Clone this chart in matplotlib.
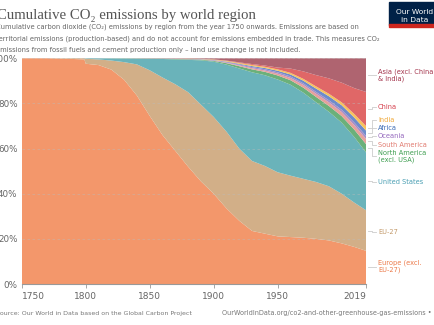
import numpy as np
import matplotlib
matplotlib.use("Agg")
from matplotlib import pyplot as plt
from matplotlib.patches import Rectangle

# shares of cumulative CO2 emissions (%) by region
years = [1750, 1770, 1790, 1799, 1800, 1810, 1820, 1830, 1840, 1850, 1860, 1870, 1880,
         1890, 1900, 1910, 1920, 1930, 1940, 1950, 1960, 1970, 1980, 1990, 2000, 2010, 2019]

europe_other = [100, 100, 99.7, 99.5, 97.6, 97.0, 95.0, 90.5, 83.5, 74.5, 66.0, 59.0, 52.0,
                45.5, 40.0, 33.5, 28.0, 23.5, 22.3, 21.1, 20.8, 20.5, 20.0, 19.3, 18.0, 16.4, 14.7]
eu27 = [0, 0, 0.3, 0.5, 2.2, 2.5, 4.0, 7.8, 13.8, 20.2, 25.5, 29.5, 33.0,
        34.0, 34.0, 34.0, 32.0, 31.0, 30.0, 28.4, 27.2, 26.1, 25.2, 24.0, 22.0, 19.6, 18.0]
usa = [0, 0, 0, 0, 0.2, 0.5, 0.95, 1.6, 2.55, 5.1, 8.2, 11.0, 14.3,
       19.6, 24.5, 29.7, 35.5, 39.3, 40.2, 41.1, 40.3, 38.2, 35.3, 33.0, 31.5, 29.0, 25.6]
north_america_other = [0, 0, 0, 0, 0, 0, 0.05, 0.1, 0.1, 0.1, 0.15, 0.2, 0.25,
                       0.3, 0.35, 0.65, 1.0, 1.3, 1.5, 1.8, 2.0, 2.2, 2.4, 2.6, 2.9, 3.3, 3.7]
south_america = [0, 0, 0, 0, 0, 0, 0, 0, 0, 0, 0, 0, 0.05,
                 0.05, 0.1, 0.2, 0.35, 0.5, 0.6, 0.8, 1.0, 1.2, 1.4, 1.6, 1.8, 2.0, 2.3]
oceania = [0, 0, 0, 0, 0, 0, 0, 0, 0, 0, 0.05, 0.1, 0.1,
           0.15, 0.2, 0.3, 0.4, 0.5, 0.55, 0.6, 0.65, 0.7, 0.8, 0.9, 1.0, 1.15, 1.3]
africa = [0, 0, 0, 0, 0, 0, 0, 0, 0, 0, 0, 0, 0,
          0.05, 0.1, 0.2, 0.3, 0.45, 0.55, 0.7, 0.9, 1.2, 1.5, 1.8, 2.0, 2.2, 2.4]
india = [0, 0, 0, 0, 0, 0, 0, 0, 0, 0, 0, 0.05, 0.1,
         0.1, 0.2, 0.3, 0.4, 0.5, 0.55, 0.6, 0.7, 0.8, 0.95, 1.1, 1.3, 1.6, 2.0]
china = [0, 0, 0, 0, 0, 0, 0, 0, 0, 0, 0, 0, 0,
         0, 0.05, 0.15, 0.25, 0.4, 0.55, 0.8, 1.9, 3.3, 5.0, 6.8, 8.7, 11.5, 15.1]
asia_other = [0, 0, 0, 0, 0, 0, 0, 0, 0.05, 0.1, 0.1, 0.15, 0.2,
              0.25, 0.5, 1.0, 1.8, 2.55, 3.2, 4.1, 4.55, 5.8, 7.45, 8.9, 10.8, 13.25, 14.9]

series = [europe_other, eu27, usa, north_america_other, south_america,
          oceania, africa, india, china, asia_other]
names = ["Europe (excl.\nEU-27)", "EU-27", "United States", "North America\n(excl. USA)",
         "South America", "Oceania", "Africa", "India", "China", "Asia (excl. China\n& India)"]
fill_colors = ["#F3976B", "#D2AF88", "#6AB3BA", "#6BB07A", "#E7A19B",
               "#A98CC6", "#6E8BCB", "#F7C35C", "#E06767", "#AF6470"]
text_colors = ["#EC7A4A", "#C39A6B", "#4A9FB3", "#3E9E50", "#E17B70",
               "#9467BD", "#3C6CB5", "#F0A93A", "#D53D4B", "#A3334B"]
# label heights (%) on the right-hand side
label_y = [7.7, 23.1, 45.3, 56.6, 61.8, 65.5, 68.9, 72.6, 78.3, 92.5]

W, H = 435, 325
fig = plt.figure(figsize=(W / 100, H / 100), dpi=100)
left, right, top, bottom = 21.7, 366, 58.3, 284
ax = fig.add_axes([left / W, 1 - bottom / H, (right - left) / W, (bottom - top) / H])

ax.stackplot(years, *series, colors=fill_colors, linewidth=0)
ax.set_xlim(1750, 2019)
ax.set_ylim(0, 100)

for v in [20, 40, 60, 80, 100]:
    ax.axhline(v, color="#bbbbbb", lw=0.6, ls=(0, (3, 3)), alpha=0.5, zorder=3)

for s in ["top", "right", "left"]:
    ax.spines[s].set_visible(False)
ax.spines["bottom"].set_color("#999999")
ax.spines["bottom"].set_linewidth(0.8)

ax.set_yticks([0, 20, 40, 60, 80, 100])
ax.set_yticklabels(["0%", "20%", "40%", "60%", "80%", "100%"])
ax.tick_params(axis="y", length=0, pad=3, labelsize=6.3, labelcolor="#666666")
xt = [1750, 1800, 1850, 1900, 1950, 2019]
ax.set_xticks(xt)
ax.set_xticklabels([str(t) for t in xt])
ax.tick_params(axis="x", length=3, width=0.6, color="#999999", pad=3,
               labelsize=6.5, labelcolor="#666666")
xl = ax.get_xticklabels()
xl[0].set_horizontalalignment("left")
xl[-1].set_horizontalalignment("right")

# right-hand labels with leader lines
ends = np.cumsum([s[-1] for s in series])
mids = ends - np.array([s[-1] for s in series]) / 2
for mid, ly, name, col in zip(mids, label_y, names, text_colors):
    xs = [2020.6, 2023.5, 2023.5, 2026.8]
    ys = [mid, mid, ly, ly]
    ax.plot(xs, ys, color="#cccccc", lw=0.6, clip_on=False)
    ax.text(2028.4, ly, name, color=col, fontsize=4.8, va="center", ha="left",
            linespacing=1.05)

# header
fig.text(-3 / W, 1 - 19 / H, "Cumulative CO₂ emissions by world region",
         family=["Liberation Serif", "DejaVu Serif"], fontsize=10.6, color="#555555",
         va="baseline")
sub = ["Cumulative carbon dioxide (CO₂) emissions by region from the year 1750 onwards. Emissions are based on",
       "territorial emissions (production-based) and do not account for emissions embedded in trade. This measures CO₂",
       "emissions from fossil fuels and cement production only – land use change is not included."]
for i, line in enumerate(sub):
    fig.text(-4 / W, 1 - (26.7 + 11.6 * i) / H, line, fontsize=4.9, color="#666666",
             va="center")

# logo
fig.patches.append(Rectangle((389 / W, 1 - 24.5 / H), 60 / W, 22 / H,
                             transform=fig.transFigure, color="#002147"))
fig.patches.append(Rectangle((389 / W, 1 - 26.5 / H), 60 / W, 2 / H,
                             transform=fig.transFigure, color="#CE261E"))
fig.text(415 / W, 1 - 12 / H, "Our World", color="white", fontsize=5.4, ha="center", va="center")
fig.text(415 / W, 1 - 19.5 / H, "in Data", color="white", fontsize=5.4, ha="center", va="center")

# footer
fig.text(-4 / W, 1 - 313 / H, "Source: Our World in Data based on the Global Carbon Project",
         fontsize=4.5, color="#777777", va="center")
fig.text(222 / W, 1 - 313 / H,
         "OurWorldInData.org/co2-and-other-greenhouse-gas-emissions • CC BY",
         fontsize=4.7, color="#777777", va="center")

fig.savefig("out.png", dpi=100)
